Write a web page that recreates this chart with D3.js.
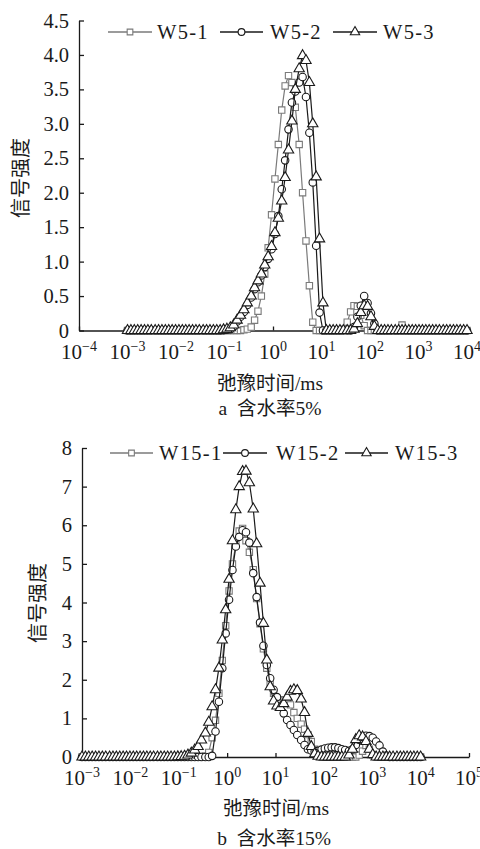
<!DOCTYPE html>
<html><head><meta charset="utf-8">
<script src="https://cdn.jsdelivr.net/npm/d3@7/dist/d3.min.js"></script>
<style>body{margin:0;background:#fff}</style>
</head><body>
<svg id="chart" width="480" height="849"></svg>
<script>
// Relaxation-time sampling grid: log10(T2 / ms), 100 points from 1e-3 to 1e4 ms
const logT2 = [
-3.00,-2.93,-2.86,-2.79,-2.72,-2.65,-2.58,-2.51,-2.43,-2.36,
-2.29,-2.22,-2.15,-2.08,-2.01,-1.94,-1.87,-1.80,-1.73,-1.66,
-1.59,-1.52,-1.44,-1.37,-1.30,-1.23,-1.16,-1.09,-1.02,-0.95,
-0.88,-0.81,-0.74,-0.67,-0.60,-0.53,-0.45,-0.38,-0.31,-0.24,
-0.17,-0.10,-0.03,0.04,0.11,0.18,0.25,0.32,0.39,0.46,
0.54,0.61,0.68,0.75,0.82,0.89,0.96,1.03,1.10,1.17,
1.24,1.31,1.38,1.45,1.53,1.60,1.67,1.74,1.81,1.88,
1.95,2.02,2.09,2.16,2.23,2.30,2.37,2.44,2.52,2.59,
2.66,2.73,2.80,2.87,2.94,3.01,3.08,3.15,3.22,3.29,
3.36,3.43,3.51,3.58,3.65,3.72,3.79,3.86,3.93,4.00];

// Panel a: water content 5%
const seriesNamesA = ["W5-1", "W5-2", "W5-3"];
const w5_1 = [
0,0,0,0,0,0,0,0,0,0,
0,0,0,0,0,0,0,0,0,0,
0,0,0,0,0,0,0,0,0,0,
0,0,0,0,0.01,0.02,0.05,0.15,0.28,0.5,
0.82,1.2,1.68,2.2,2.7,3.2,3.55,3.7,3.6,3.24,
2.7,2.0,1.3,0.65,0.12,0,0,0,0,0,
0,0,0,0.02,0.12,0.27,0.36,0.35,0.22,0.07,
0,0,0,0,0,0,0,0,0,0,
0.08,0,0,0,0,0,0,0,0,0,
0,0,0,0,0,0,0,0,0,0];
const w5_2 = [
0,0,0,0,0,0,0,0,0,0,
0,0,0,0,0,0,0,0,0,0,
0,0,0,0,0,0,0,0,0.005,0.01,
0.02,0.06,0.13,0.2,0.27,0.37,0.48,0.6,0.7,0.8,
0.92,1.04,1.18,1.4,1.66,2.05,2.47,2.92,3.31,3.47,
3.6,3.68,3.39,2.87,2.15,1.23,0.26,0,0,0,
0,0,0,0,0,0,0.05,0.2,0.36,0.5,
0.4,0.25,0.1,0,0,0,0,0,0,0,
0,0,0,0,0,0,0,0,0,0,
0,0,0,0,0,0,0,0,0,0];
const w5_3 = [
0,0,0,0,0,0,0,0,0,0,
0,0,0,0,0,0,0,0,0,0,
0,0,0,0,0,0,0,0,0.01,0.02,
0.04,0.08,0.15,0.22,0.3,0.4,0.5,0.62,0.72,0.82,
0.95,1.07,1.22,1.42,1.63,1.88,2.22,2.62,3.04,3.5,
3.8,3.99,3.92,3.6,3.0,2.23,1.33,0.4,0,0,
0,0,0,0,0,0,0.02,0.1,0.26,0.36,
0.35,0.2,0.06,0,0,0,0,0,0,0,
0,0,0,0,0,0,0,0,0,0,
0,0,0,0,0,0,0,0,0,0];
const yTicksA = [0, 0.5, 1, 1.5, 2, 2.5, 3, 3.5, 4, 4.5];
const yTickLabelsA = ["0", "0.5", "1.0", "1.5", "2.0", "2.5", "3.0", "3.5", "4.0", "4.5"];
const xExpA = [-4, -3, -2, -1, 0, 1, 2, 3, 4];

// Panel b: water content 15%
const seriesNamesB = ["W15-1", "W15-2", "W15-3"];
const w15_1 = [
0,0,0,0,0,0,0,0,0,0,
0,0,0,0,0,0,0,0,0,0,
0,0,0,0,0,0,0,0,0,0,
0,0,0,0,0,0,0.03,0.12,0.5,0.95,
1.65,2.5,3.4,4.3,5.0,5.5,5.85,5.92,5.6,5.3,
4.85,4.1,3.45,2.8,2.3,1.9,1.65,1.52,1.48,1.45,
1.43,1.35,1.15,1.0,0.85,0.72,0.58,0.4,0.2,0.06,
0,0,0,0,0,0,0,0,0,0,
0,0.05,0.15,0.3,0.2,0.05,0,0,0,0,
0,0,0,0,0,0,0,0,0,0];
const w15_2 = [
0,0,0,0,0,0,0,0,0,0,
0,0,0,0,0,0,0,0,0,0,
0,0,0,0,0,0,0,0,0,0,
0,0,0,0,0,0,0,0,0.03,0.66,
1.43,2.3,3.2,4.07,4.84,5.45,5.7,5.87,5.82,5.55,
4.76,4.14,3.48,2.88,2.38,2.04,1.74,1.55,1.38,1.13,
0.96,0.83,0.7,0.57,0.44,0.31,0.2,0.17,0.14,0.16,
0.19,0.22,0.24,0.25,0.25,0.23,0.2,0.18,0.16,0.2,
0.31,0.45,0.52,0.55,0.54,0.5,0.4,0.3,0.14,0.04,
0,0,0,0,0,0,0,0,0,0];
const w15_3 = [
0,0,0,0,0,0,0,0,0,0,
0,0,0,0,0,0,0,0,0,0,
0,0,0,0,0,0,0,0,0.005,0.01,
0.02,0.05,0.1,0.18,0.27,0.44,0.62,0.9,1.3,1.74,
2.3,3.03,3.81,4.6,5.6,6.4,7.0,7.39,7.4,7.1,
6.42,5.52,4.5,3.46,2.51,1.82,1.45,1.32,1.28,1.38,
1.55,1.7,1.74,1.72,1.5,1.15,0.61,0.27,0.08,0.02,
0,0,0,0,0,0,0,0,0.05,0.2,
0.45,0.55,0.52,0.4,0.2,0.06,0,0,0,0,
0,0,0,0,0,0,0,0,0,0];
const yTicksB = [0, 1, 2, 3, 4, 5, 6, 7, 8];
const yTickLabelsB = ["0", "1", "2", "3", "4", "5", "6", "7", "8"];
const xExpB = [-3, -2, -1, 0, 1, 2, 3, 4, 5];

const xTitle = "弛豫时间/ms";
const yTitle = "信号强度";
const captionA = "a  含水率5%";
const captionB = "b  含水率15%";

// ---------------------------------------------------------------
const SERIF = "'Liberation Serif','Times New Roman','Noto Sans CJK SC',serif";
const INK = "#1a1a1a";
const GRAY = "#7a7a7a";
const svg = d3.select("#chart");

const markerTypes = [d3.symbolSquare, d3.symbolCircle, d3.symbolTriangle];
const markerSizes = [40, 44, 46];
const seriesColors = [GRAY, INK, INK];

function supLabel(sel, e) {
  sel.append("tspan").text("10");
  sel.append("tspan").attr("font-size", 14).attr("dy", -8)
     .text(e < 0 ? "\u2212" + Math.abs(e) : String(e));
}

function drawPanel(cfg) {
  const x = d3.scaleLog().domain(cfg.xDomain).range([cfg.left, cfg.right]);
  const y = d3.scaleLinear().domain(cfg.yDomain).range([cfg.bottom, cfg.top]);
  const g = svg.append("g");

  // y axis
  const ya = g.append("g").attr("transform", `translate(${cfg.left},0)`)
    .call(d3.axisLeft(y).tickValues(cfg.yTicks)
      .tickFormat((d, i) => cfg.yLabels[i])
      .tickSizeInner(-5).tickSizeOuter(0).tickPadding(10));
  ya.attr("font-family", SERIF).attr("font-size", 20.5);
  ya.selectAll("text").attr("fill", INK);
  ya.selectAll("path,line").attr("stroke", INK).attr("stroke-width", 1.3);

  // x axis
  const xa = g.append("g").attr("transform", `translate(0,${cfg.bottom})`)
    .call(d3.axisBottom(x).tickValues(cfg.xExp.map(e => Math.pow(10, e)))
      .tickFormat(() => "").tickSizeInner(-4).tickSizeOuter(0));
  xa.selectAll("path,line").attr("stroke", INK).attr("stroke-width", 1.3);
  cfg.xExp.forEach(e => {
    const t = g.append("text").attr("x", x(Math.pow(10, e))).attr("y", cfg.bottom + 28)
      .attr("text-anchor", "middle").attr("font-family", SERIF).attr("font-size", 21)
      .attr("fill", INK);
    supLabel(t, e);
  });

  // axis titles
  g.append("text").attr("transform", `translate(${cfg.yTitleX},${cfg.yTitleY}) rotate(-90)`)
    .attr("text-anchor", "middle").attr("dy", "0.35em")
    .attr("font-family", SERIF).attr("font-size", 20).attr("fill", INK).text(yTitle);
  g.append("text").attr("x", cfg.xTitleX).attr("y", cfg.xTitleY).attr("text-anchor", "middle")
    .attr("font-family", SERIF).attr("font-size", 19.5).attr("fill", INK).text(xTitle);
  g.append("text").attr("x", cfg.capX).attr("y", cfg.capY).attr("text-anchor", "middle")
    .attr("font-family", SERIF).attr("font-size", 19.5).attr("fill", INK)
    .attr("xml:space", "preserve").text(cfg.caption);

  // series
  const line = d3.line().x(d => x(d.t)).y(d => y(d.v));
  cfg.series.forEach((vals, si) => {
    const pts = logT2.map((e, i) => ({ t: Math.pow(10, e), v: vals[i] }));
    const sg = g.append("g");
    sg.append("path").datum(pts).attr("d", line).attr("fill", "none")
      .attr("stroke", seriesColors[si]).attr("stroke-width", 1.2);
    sg.selectAll("path.m").data(pts).join("path").attr("class", "m")
      .attr("transform", d => `translate(${x(d.t)},${y(d.v)})`)
      .attr("d", d3.symbol().type(markerTypes[si]).size(markerSizes[si]))
      .attr("fill", "#fff").attr("stroke", seriesColors[si]).attr("stroke-width", 1.1);
  });

  // legend
  cfg.names.forEach((name, si) => {
    const L = cfg.legend[si];
    const lg = g.append("g");
    lg.append("line").attr("x1", L[0]).attr("x2", L[1]).attr("y1", cfg.legendY).attr("y2", cfg.legendY)
      .attr("stroke", seriesColors[si]).attr("stroke-width", 1.4);
    lg.append("path").attr("transform", `translate(${(L[0] + L[1]) / 2},${cfg.legendY})`)
      .attr("d", d3.symbol().type(markerTypes[si]).size(markerSizes[si] - 8))
      .attr("fill", "#fff").attr("stroke", seriesColors[si]).attr("stroke-width", 1.1);
    lg.append("text").attr("x", L[2]).attr("y", cfg.legendY + 7)
      .attr("font-family", SERIF).attr("font-size", 20.5).attr("letter-spacing", 1.3)
      .attr("fill", INK).text(name);
  });
}

drawPanel({
  xDomain: [1e-4, 1e4], yDomain: [0, 4.5],
  left: 79, right: 467, top: 20.5, bottom: 330.5,
  yTicks: yTicksA, yLabels: yTickLabelsA, xExp: xExpA,
  series: [w5_1, w5_2, w5_3], names: seriesNamesA,
  legendY: 32, legend: [[108, 152, 157], [220, 263, 270], [333, 377, 383]],
  yTitleX: 21, yTitleY: 178, xTitleX: 270, xTitleY: 390, capX: 270, capY: 415,
  caption: captionA
});

drawPanel({
  xDomain: [1e-3, 1e5], yDomain: [0, 8],
  left: 82, right: 469, top: 448, bottom: 757,
  yTicks: yTicksB, yLabels: yTickLabelsB, xExp: xExpB,
  series: [w15_1, w15_2, w15_3], names: seriesNamesB,
  legendY: 453, legend: [[110, 153, 159], [223, 267, 276], [345, 388, 395]],
  yTitleX: 38, yTitleY: 603, xTitleX: 276, xTitleY: 815, capX: 274, capY: 845,
  caption: captionB
});
</script>
</body></html>
